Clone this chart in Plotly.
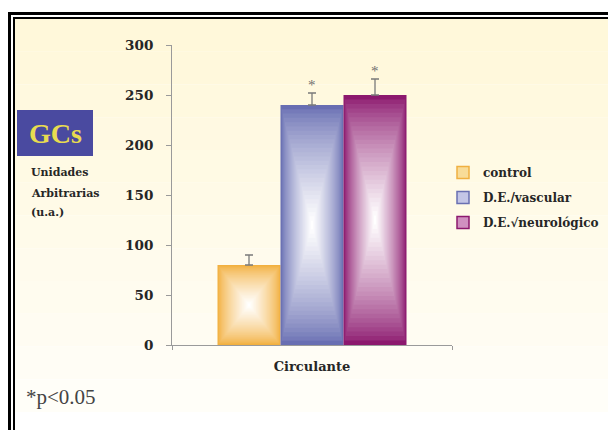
import plotly.graph_objects as go

# ---- data ----
categories = ["Circulante"]
series_names = ["control", "D.E./vascular", "D.E.\u221aneurológico"]
values = [80, 240, 250]
errors = [10, 12, 16]
significant = [False, True, True]
y_ticks = [0, 50, 100, 150, 200, 250, 300]

edge_colors = [(242, 176, 64), (104, 110, 178), (140, 24, 110)]
legend_fill = ["#F8DC98", "#C4C6E6", "#D090C0"]
edge_hex = ["#F0B040", "#6A70B2", "#8C186E"]

W, H = 608, 430
def px(x):
    return x / W
def py(y):
    return 1 - y / H

SERIF = "Liberation Serif"
BSERIF = "DejaVu Serif"
TXT = "#262626"

fig = go.Figure()

group_w = 0.675
bar_w = group_w / len(values)
N = 28
for k, (v, e, col) in enumerate(zip(values, errors, edge_colors)):
    off0 = -group_w / 2 + k * bar_w
    for i in range(N):
        s = 1 - i / N
        t = (i / (N - 1)) ** 0.75
        c = tuple(int(round(col[j] + (255 - col[j]) * t)) for j in range(3))
        kw = {}
        if i == 0:
            kw["error_y"] = dict(type="data", array=[e], arrayminus=[0], symmetric=False,
                                 color="#7a7a7a", thickness=1.3, width=4)
        fig.add_trace(go.Bar(
            x=categories, y=[v * s], base=[v * (1 - s) / 2],
            width=bar_w * s, offset=off0 + bar_w * (1 - s) / 2,
            marker=dict(color="rgb(%d,%d,%d)" % c, line=dict(width=0)),
            showlegend=False, hoverinfo="skip", **kw))

for k, name in enumerate(series_names):
    fig.add_trace(go.Bar(x=[None], y=[None], name="<b>%s</b>" % name, legendgroup=name,
                         marker=dict(color=legend_fill[k], line=dict(color=edge_hex[k], width=1.5))))

# asterisks
for k, (v, e, sig) in enumerate(zip(values, errors, significant)):
    if sig:
        fig.add_annotation(x=-group_w / 2 + (k + 0.5) * bar_w, y=v + e, xref="x", yref="y",
                           text="*", showarrow=False, xanchor="center", yanchor="bottom", yshift=-2,
                           font=dict(family=SERIF, size=15, color="#707070"))

shapes = []
# cream background bands
top, bot = 19, 412
nb = 12
for b in range(nb):
    t = b / (nb - 1)
    r, g, bl = 255, int(248 + 6 * t), int(218 + 30 * t)
    y0 = top + (bot - top) * b / nb
    y1 = top + (bot - top) * (b + 1) / nb
    shapes.append(dict(type="rect", xref="paper", yref="paper", x0=px(15), x1=1,
                       y0=py(y1), y1=py(y0), fillcolor="rgb(%d,%d,%d)" % (r, g, bl),
                       line=dict(width=0), layer="below"))
# frame
shapes += [
    dict(type="line", xref="paper", yref="paper", x0=px(9.5), x1=px(9.5), y0=py(12), y1=0,
         line=dict(color="black", width=3)),
    dict(type="line", xref="paper", yref="paper", x0=px(8), x1=1, y0=py(13.5), y1=py(13.5),
         line=dict(color="black", width=3)),
    dict(type="line", xref="paper", yref="paper", x0=px(14), x1=px(14), y0=py(17), y1=0,
         line=dict(color="black", width=2)),
    dict(type="line", xref="paper", yref="paper", x0=px(13), x1=1, y0=py(18), y1=py(18),
         line=dict(color="black", width=2)),
    # GCs box
    dict(type="rect", xref="paper", yref="paper", x0=px(17), x1=px(93), y0=py(156), y1=py(110),
         fillcolor="#4A4AA0", line=dict(width=0)),
]

annotations = [
    dict(x=px(55), y=py(133), xanchor="center", text="<b>GCs</b>",
         font=dict(family=SERIF, size=28, color="#E8DC50")),
    dict(x=px(29), y=py(172), xanchor="left", text="<b>Unidades</b>",
         font=dict(family=BSERIF, size=11, color=TXT)),
    dict(x=px(29), y=py(193), xanchor="left", text="<b>Arbitrarias</b>",
         font=dict(family=BSERIF, size=11, color=TXT)),
    dict(x=px(29), y=py(212), xanchor="left", text="<b>(u.a.)</b>",
         font=dict(family=BSERIF, size=11, color=TXT)),
    dict(x=px(24), y=py(397), xanchor="left", text="*p&lt;0.05",
         font=dict(family=SERIF, size=21, color="#444444")),
]
for a in annotations:
    fig.add_annotation(xref="paper", yref="paper", yanchor="middle", showarrow=False, **a)

fig.update_layout(
    width=W, height=H, margin=dict(l=0, r=0, t=0, b=0, pad=0, autoexpand=False),
    paper_bgcolor="white", plot_bgcolor="rgba(0,0,0,0)",
    barmode="overlay", shapes=shapes,
    showlegend=True,
    legend=dict(x=px(443), y=py(158), xanchor="left", yanchor="top",
                bgcolor="rgba(0,0,0,0)", itemwidth=30, tracegroupgap=6,
                font=dict(family=BSERIF, size=12, color=TXT)),
    xaxis=dict(domain=[px(172), px(452)], type="category", range=[-0.5, 0.5], automargin=False,
               showline=True, linecolor="#9a9a9a", linewidth=1, ticks="outside",
               tickson="boundaries", ticklen=4, tickcolor="#9a9a9a",
               tickfont=dict(family=BSERIF, size=13, color=TXT),
               ticklabelstandoff=9, showgrid=False, zeroline=False, fixedrange=True),
    yaxis=dict(domain=[py(345), py(45)], range=[0, 300], tickvals=y_ticks, automargin=False,
               ticktext=["<b>%d</b>" % v for v in y_ticks],
               showline=True, linecolor="#9a9a9a", linewidth=1, ticks="outside",
               ticklen=5, tickcolor="#9a9a9a", ticklabelstandoff=10,
               tickfont=dict(family=BSERIF, size=13.5, color=TXT),
               showgrid=False, zeroline=False),
)
fig.update_xaxes(ticktext=["<b>Circulante</b>"], tickvals=categories)

fig.write_html("out.html", config={"responsive": False, "displayModeBar": False},
               post_script="document.body.style.margin='0';")
